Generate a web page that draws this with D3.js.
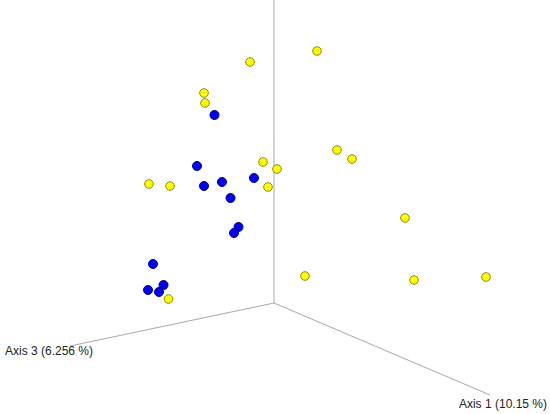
<!DOCTYPE html>
<html>
<head>
<meta charset="utf-8">
<script src="https://cdn.jsdelivr.net/npm/d3@7"></script>
<style>
html,body{margin:0;padding:0;background:#fff;}
svg{display:block;}
</style>
</head>
<body>
<svg id="chart" width="550" height="414"></svg>
<script>
// Projected PCoA coordinates (screen-plane units, origin = axes origin)
const yellowU = [0.43, -0.24, -0.70, -0.69, -0.11, 0.03, -0.06, -1.25, -1.04, 0.63, 0.78, 1.31, 0.31, 1.40, 2.12, -1.055];
const yellowV = [2.52, 2.41, 2.10, 2.00, 1.41, 1.34, 1.16, 1.19, 1.17, 1.53, 1.44, 0.85, 0.27, 0.23, 0.26, 0.04];
const blueU = [-0.595, -0.77, -0.70, -0.52, -0.20, -0.435, -0.355, -0.40, -1.21, -1.26, -1.105, -1.15];
const blueV = [1.88, 1.37, 1.17, 1.21, 1.25, 1.05, 0.76, 0.70, 0.39, 0.13, 0.18, 0.11];

// Projected axis end points
const axisNames = ["Axis 1 (10.15 %)", "Axis 2", "Axis 3 (6.256 %)"];
const axisEndU = [2.16, 0.0, -2.04];
const axisEndV = [-0.92, 3.03, -0.43];

const W = 550, H = 414;
const x = d3.scaleLinear().domain([-2.74, 2.76]).range([0, W]);
const y = d3.scaleLinear().domain([-1.11, 3.03]).range([H, 0]);

const svg = d3.select("#chart");

// Axes lines
const axes = axisNames.map((n, i) => ({name: n, u: axisEndU[i], v: axisEndV[i]}));
svg.append("g").selectAll("line").data(axes).join("line")
  .attr("x1", x(0)).attr("y1", y(0))
  .attr("x2", d => x(d.u)).attr("y2", d => y(d.v))
  .attr("stroke", "#a8a8a8").attr("stroke-width", 1);

// Axis labels
const lab = svg.append("g").attr("font-family", "Arial, 'Liberation Sans', sans-serif")
  .attr("font-size", 12).attr("fill", "#222");
lab.append("text").attr("x", x(axisEndU[2]) - 65).attr("y", y(axisEndV[2]) + 9)
  .text(axisNames[2]);
lab.append("text").attr("x", x(axisEndU[0]) + 57).attr("y", y(axisEndV[0]) + 13)
  .attr("text-anchor", "end").text(axisNames[0]);

const blue = blueU.map((u, i) => ({u, v: blueV[i]}));
const yellow = yellowU.map((u, i) => ({u, v: yellowV[i]}));

svg.append("g").selectAll("circle").data(blue).join("circle")
  .attr("cx", d => x(d.u)).attr("cy", d => y(d.v)).attr("r", 4.5)
  .attr("fill", "#0000f0").attr("stroke", "#00008a").attr("stroke-width", 1);

svg.append("g").selectAll("circle").data(yellow).join("circle")
  .attr("cx", d => x(d.u)).attr("cy", d => y(d.v)).attr("r", 4.3)
  .attr("fill", "#ffff00").attr("stroke", "#8c8c00").attr("stroke-width", 1);
</script>
</body>
</html>
